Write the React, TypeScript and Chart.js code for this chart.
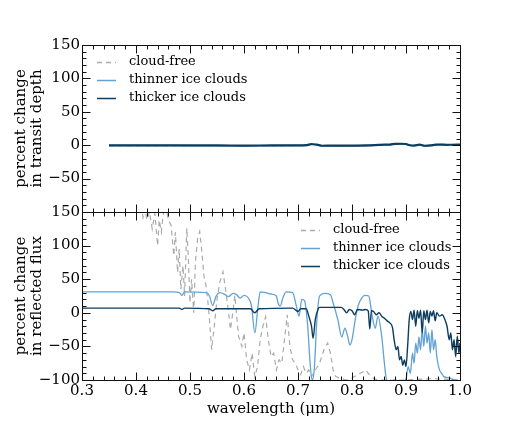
import React, { useEffect, useRef } from 'react';
import { Chart, registerables } from 'chart.js';
Chart.register(...registerables);

const FONT = "'DejaVu Serif', serif";

// ---------- data ----------
const seriesLabels = ['cloud-free', 'thinner ice clouds', 'thicker ice clouds'];
const xTickMin = 0.3;
const xTickMax = 1.0;

// top panel: percent change in transit depth
const transitWl = [0.35, 0.40, 0.45, 0.50, 0.55, 0.60, 0.65, 0.70, 0.715, 0.725, 0.735, 0.745, 0.76, 0.80, 0.83, 0.85, 0.86, 0.87, 0.88, 0.89, 0.90, 0.905, 0.915, 0.925, 0.935, 0.945, 0.955, 0.965, 0.975, 0.985, 1.0];
const transitCloudFree = [-0.5, -0.5, -0.5, -0.5, -0.8, -1, -1, -0.6, -0.3, 1, 0.5, -1, -1, -0.8, -0.3, 0.3, 0.6, 0.8, 1.5, 1.8, 1.6, 0.5, -0.5, 0.5, -1, -0.6, 0.4, 1, 0.5, 0.6, 0.8];
const transitThinner = [-0.5, -0.5, -0.6, -0.7, -1, -1.2, -1, -0.6, -0.3, 1.2, 0.5, -1, -1, -0.8, -0.3, 0.3, 0.5, 0.8, 1.6, 1.8, 1.5, 0.3, -0.5, 0.6, -1, -0.6, 0.5, 1, 0.5, 0.6, 0.8];
const transitThicker = [-0.3, -0.3, -0.3, -0.4, -0.4, -0.5, -0.4, -0.3, 0, 1.8, 0.8, -0.8, -0.6, -0.5, -0.2, 0.5, 0.8, 1.0, 2.0, 2.2, 1.8, 0.3, -0.5, 0.8, -0.8, -0.4, 0.8, 1.0, 0.6, 0.7, 0.8];

// bottom panel: percent change in reflected flux
const cloudFreeWl = [0.30, 0.38, 0.40, 0.41, 0.413, 0.417, 0.42, 0.425, 0.43, 0.435, 0.44, 0.443, 0.447, 0.45, 0.455, 0.46, 0.465, 0.47, 0.473, 0.477, 0.48, 0.483, 0.487, 0.49, 0.494, 0.497, 0.50, 0.503, 0.507, 0.51, 0.514, 0.518, 0.522, 0.526, 0.53, 0.534, 0.537, 0.54, 0.545, 0.55, 0.555, 0.561, 0.565, 0.57, 0.575, 0.58, 0.583, 0.587, 0.59, 0.596, 0.60, 0.605, 0.61, 0.615, 0.62, 0.625, 0.63, 0.635, 0.64, 0.645, 0.65, 0.655, 0.66, 0.665, 0.67, 0.675, 0.68, 0.685, 0.69, 0.695, 0.70, 0.705, 0.71, 0.715, 0.72, 0.725, 0.73, 0.74, 0.748, 0.755, 0.76, 0.765, 0.77, 0.78, 0.79, 0.80, 0.81, 0.82, 0.825, 0.83, 0.84, 0.85, 0.90, 0.95, 1.0];
const cloudFreeFlux = [300, 250, 200, 160, 142, 155, 138, 150, 125, 148, 100, 138, 120, 145, 160, 138, 130, 85, 120, 60, 95, 35, 70, 25, 126, 80, 15, 50, 0, 75, 110, 121, 90, 54, 39, 10, -20, -55, -20, 20, 45, 61, 40, 10, -25, 5, 26, -10, -35, -50, -30, -70, -85, -60, -95, -80, -40, -20, -6, -40, -65, -60, -85, -70, -75, -40, -3, -50, -70, -75, -85, -92, -80, -90, -85, -95, -88, -75, -55, -45, -60, -85, -95, -98, -100, -97, -92, -88, -85, -90, -98, -100, -100, -98, -100];

const thinnerWl = [0.30, 0.40, 0.47, 0.48, 0.485, 0.49, 0.53, 0.536, 0.542, 0.548, 0.555, 0.565, 0.571, 0.58, 0.586, 0.593, 0.60, 0.608, 0.614, 0.62, 0.626, 0.63, 0.64, 0.65, 0.66, 0.663, 0.667, 0.672, 0.678, 0.69, 0.697, 0.702, 0.707, 0.712, 0.718, 0.722, 0.726, 0.73, 0.735, 0.74, 0.75, 0.76, 0.765, 0.774, 0.781, 0.787, 0.792, 0.796, 0.80, 0.806, 0.812, 0.818, 0.824, 0.831, 0.837, 0.843, 0.848, 0.855, 0.86, 0.864, 0.87, 0.88, 0.89, 0.90, 0.904, 0.908, 0.912, 0.915, 0.918, 0.921, 0.924, 0.927, 0.93, 0.933, 0.936, 0.939, 0.942, 0.945, 0.948, 0.951, 0.954, 0.957, 0.962, 0.966, 0.97, 0.98, 0.99, 1.0];
const thinnerFlux = [31, 31, 31, 30, 26, 31, 30, 25, 11, 24, 30, 27, 24, 29, 27, 22, 26, 22, 10, -30, 10, 31, 30, 28, 25, 15, 10, 22, 31, 30, 10, -5, 20, 18, -20, -70, -100, -85, -10, 25, 29, 27, 15, -11, -36, -23, -35, -48, -40, -10, 12, 22, 26, 25, -3, -23, -5, -35, -75, -100, -105, -100, -103, -98, -80, -90, -60, -75, -45, -60, -36, -55, -25, -50, -20, -45, -30, -60, -25, -55, -40, -65, -85, -90, -95, -97, -100, -102];

const thickerWl = [0.30, 0.48, 0.485, 0.49, 0.535, 0.542, 0.548, 0.612, 0.62, 0.628, 0.69, 0.70, 0.705, 0.715, 0.72, 0.725, 0.728, 0.732, 0.737, 0.74, 0.78, 0.785, 0.79, 0.795, 0.80, 0.805, 0.81, 0.82, 0.825, 0.83, 0.833, 0.836, 0.84, 0.845, 0.85, 0.855, 0.86, 0.865, 0.87, 0.875, 0.878, 0.882, 0.885, 0.888, 0.891, 0.894, 0.897, 0.90, 0.903, 0.906, 0.909, 0.912, 0.915, 0.918, 0.921, 0.924, 0.927, 0.93, 0.933, 0.936, 0.939, 0.942, 0.945, 0.948, 0.951, 0.954, 0.957, 0.962, 0.967, 0.972, 0.976, 0.98, 0.983, 0.986, 0.989, 0.992, 0.995, 0.998, 1.0];
const thickerFlux = [7, 7, 5, 7, 6, 3, 6, 6, 0, 6, 7, 2, 6, 6, -5, -20, -38, -10, 5, 8, 8, 5, 0, 5, 3, -3, 5, 4, 5, 3, -24, 3, 2, -3, 0, -5, -8, -12, -15, -22, -40, -55, -50, -70, -65, -78, -70, -80, -50, -10, 2, -10, 4, -20, 3, -8, 4, -30, 3, -10, 4, -15, 2, -5, 3, -12, 0, -5, -3, -10, -20, -40, -30, -55, -40, -65, -35, -60, -45];

const seriesColors = ['#ababab', '#62a2d4', '#0c3d5e'];

// ---------- helpers ----------
const fmt = (v: number) => (v < 0 ? '\u2212' + Math.abs(v) : String(v));
const pts = (xs: number[], ys: number[]) => xs.map((x, i) => ({ x, y: ys[i] }));

const frameTicks = {
  id: 'frameTicks',
  afterDatasetsDraw(chart: any) {
    const { ctx, chartArea, scales } = chart;
    const L = Math.round(chartArea.left) + 0.5;
    const R = Math.round(chartArea.right) + 0.5;
    const T = Math.round(chartArea.top) + 0.5;
    const B = Math.round(chartArea.bottom) + 0.5;
    ctx.save();
    ctx.strokeStyle = '#111';
    ctx.lineWidth = 1;
    ctx.strokeRect(L, T, R - L, B - T);
    ctx.beginPath();
    for (let i = 0; i <= 35; i++) {
      const v = 0.3 + i * 0.02;
      const len = i % 5 === 0 ? 8 : 4;
      const px = Math.round(scales.x.getPixelForValue(v)) + 0.5;
      ctx.moveTo(px, T); ctx.lineTo(px, T + len);
      ctx.moveTo(px, B); ctx.lineTo(px, B - len);
    }
    for (let v = -100; v <= 150; v += 10) {
      const len = v % 50 === 0 ? 8 : 4;
      const py = Math.round(scales.y.getPixelForValue(v)) + 0.5;
      ctx.moveTo(L, py); ctx.lineTo(L + len, py);
      ctx.moveTo(R, py); ctx.lineTo(R - len, py);
    }
    ctx.stroke();
    ctx.restore();
  },
};

const miniLegend = {
  id: 'miniLegend',
  afterDraw(chart: any, _args: any, opts: any) {
    const { ctx } = chart;
    ctx.save();
    ctx.font = `13px ${FONT}`;
    ctx.textBaseline = 'middle';
    ctx.fillStyle = '#000';
    chart.data.datasets.forEach((ds: any, i: number) => {
      const y = opts.y + i * opts.gap;
      ctx.beginPath();
      ctx.strokeStyle = ds.borderColor;
      ctx.lineWidth = ds.legendWidth || 1.5;
      ctx.setLineDash(ds.borderDash || []);
      ctx.moveTo(opts.x, y + 0.5);
      ctx.lineTo(opts.x + 19, y + 0.5);
      ctx.stroke();
      ctx.setLineDash([]);
      ctx.fillText(ds.label, opts.x + 32, y);
    });
    ctx.restore();
  },
};

function makeDatasets(sets: { x: number; y: number }[][], widths: number[], smooth: boolean) {
  return sets.map((data, i) => ({
    label: seriesLabels[i],
    data,
    borderColor: seriesColors[i],
    borderWidth: widths[i],
    legendWidth: 1.5,
    borderDash: i === 0 ? [5, 4] : [],
    pointRadius: 0,
    fill: false,
    tension: 0,
    cubicInterpolationMode: smooth && i > 0 ? 'monotone' : 'default',
    order: 2 - i,
  }));
}

function yAxis(title: string[], hideMin: boolean) {
  return {
    type: 'linear',
    min: -100,
    max: 150,
    afterFit: (s: any) => { s.width = 82; },
    grid: { display: false, drawTicks: false },
    border: { display: false },
    ticks: {
      stepSize: 50,
      padding: 2,
      color: '#000',
      font: { family: FONT, size: 15 },
      callback: (v: any) => (hideMin && v === -100 ? '' : fmt(v)),
    },
    title: {
      display: true,
      text: title,
      color: '#000',
      font: { family: FONT, size: 15, lineHeight: 1.05 },
      padding: { top: 13, bottom: 0 },
    },
  };
}

export default function App() {
  const topRef = useRef<HTMLCanvasElement>(null);
  const botRef = useRef<HTMLCanvasElement>(null);

  useEffect(() => {
    const top = new Chart(topRef.current as HTMLCanvasElement, {
      type: 'line',
      data: {
        datasets: makeDatasets(
          [pts(transitWl, transitCloudFree), pts(transitWl, transitThinner), pts(transitWl, transitThicker)],
          [1.2, 1.5, 2.2],
          true
        ) as any,
      },
      options: {
        responsive: false,
        animation: false,
        layout: { padding: { left: 0, right: 52, top: 45, bottom: 236 } },
        plugins: {
          legend: { display: false },
          tooltip: { enabled: false },
          miniLegend: { x: 97, y: 62, gap: 18 },
        } as any,
        scales: {
          x: { type: 'linear', min: xTickMin, max: xTickMax, display: false },
          y: yAxis(['percent change', 'in transit depth'], true) as any,
        },
      },
      plugins: [frameTicks, miniLegend],
    });

    const bot = new Chart(botRef.current as HTMLCanvasElement, {
      type: 'line',
      data: {
        datasets: makeDatasets(
          [pts(cloudFreeWl, cloudFreeFlux), pts(thinnerWl, thinnerFlux), pts(thickerWl, thickerFlux)],
          [1.2, 1.3, 1.4],
          true
        ) as any,
      },
      options: {
        responsive: false,
        animation: false,
        layout: { padding: { left: 0, right: 52, top: 212, bottom: 20 } },
        plugins: {
          legend: { display: false },
          tooltip: { enabled: false },
          miniLegend: { x: 301, y: 230, gap: 18 },
        } as any,
        scales: {
          x: {
            type: 'linear',
            min: xTickMin,
            max: xTickMax,
            afterFit: (s: any) => { s.height = 48; },
            grid: { display: false, drawTicks: false },
            border: { display: false },
            ticks: {
              stepSize: 0.1,
              padding: 2,
              color: '#000',
              font: { family: FONT, size: 15 },
              callback: (v: any) => Number(v).toFixed(1),
            },
            title: {
              display: true,
              text: 'wavelength (\u03bcm)',
              color: '#000',
              font: { family: FONT, size: 15 },
              padding: { top: 0, bottom: 10 },
            },
          } as any,
          y: yAxis(['percent change', 'in reflected flux'], false) as any,
        },
      },
      plugins: [frameTicks, miniLegend],
    });

    return () => {
      top.destroy();
      bot.destroy();
    };
  }, []);

  const style: React.CSSProperties = { position: 'absolute', left: 0, top: 0, width: 512, height: 448 };
  return (
    <div style={{ position: 'absolute', left: 0, top: 0, width: 512, height: 448, background: '#fff' }}>
      <canvas ref={botRef} width={512} height={448} style={style} />
      <canvas ref={topRef} width={512} height={448} style={style} />
    </div>
  );
}
